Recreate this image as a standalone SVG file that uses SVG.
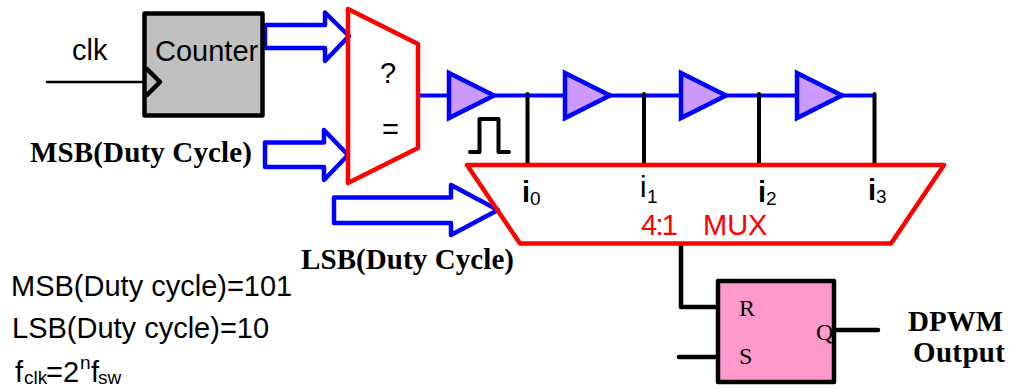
<svg xmlns="http://www.w3.org/2000/svg" width="1010" height="389" viewBox="0 0 1010 389">
<style>
text{font-family:"Liberation Sans",Arial,sans-serif;font-size:29px;fill:#000}
.s{font-family:"Liberation Serif","Times New Roman",serif}
.b{font-weight:bold}
.sm{font-size:24px}
.sub{font-size:19px}
.red{fill:#f00}
.rp{fill:none;stroke:#f00;stroke-width:4.500;stroke-linejoin:round}
.arrow{fill:none;stroke:#00f;stroke-width:4.500;stroke-linejoin:round}
.buf{fill:#cc99ff;stroke:#00f;stroke-width:4.500;stroke-linejoin:miter}
.bk{fill:none;stroke:#000;stroke-width:4;stroke-linecap:round;stroke-linejoin:round}
.bl{fill:none;stroke:#00f;stroke-width:4}
.box{stroke:#000;stroke-width:4.500;stroke-linejoin:round}
</style>
<rect width="1010" height="389" fill="#fff"/>
<g id="connectors">
<path class="bk" style="stroke-width:2.500" d="M47 82H145"/>
<path class="bl" d="M418 95.500H875"/>
<path class="bk" d="M527.500 94V165M644 94V165M759 94V165M874.500 94V165"/>
<path class="bk" style="stroke-width:4.500" d="M681 244V307H718M679 357H718M834 330H878"/>
<path class="arrow" id="arrow-counter" d="M265 25H325V12.500L349 36L325 61V48H265Z"/>
<path class="arrow" id="arrow-msb" d="M265 142.500H324V130L348 155L324 180V167H265Z"/>
<path class="arrow" id="arrow-lsb" d="M334 197.500H451V185L498 210L451 235V223H334Z"/>
</g>
<g id="counter">
<rect class="box" x="144.500" y="13.500" width="118" height="102" fill="#c0c0c0"/>
<path class="bk" style="stroke-width:4.500;stroke-linecap:butt" d="M146 68L160 82L146 96"/>
<text x="155" y="61">Counter</text>
<text x="72" y="60">clk</text>
</g>
<g id="comparator">
<path class="rp" d="M348 9L418 44V148L348 183Z"/>
<text x="380" y="83">?</text>
<text x="382" y="139">=</text>
</g>
<g id="buffer-1"><path class="buf" d="M449 73L494 95.500L449 118Z"/></g>
<g id="buffer-2"><path class="buf" d="M565 73L610 95.500L565 118Z"/></g>
<g id="buffer-3"><path class="buf" d="M681 73L726 95.500L681 118Z"/></g>
<g id="buffer-4"><path class="buf" d="M797 73L842 95.500L797 118Z"/></g>
<g id="pulse"><path class="bk" style="stroke-width:4" d="M470 152H479.500V119H498.500V152H509"/></g>
<g id="mux">
<path class="rp" d="M467 165H944L891 243.500H520Z"/>
<text class="b" x="522" y="202">i</text><text class="sub" x="530" y="205">0</text>
<text x="640" y="197">i</text><text class="sub" x="647" y="203">1</text>
<text class="b" x="758" y="202">i</text><text class="sub" x="766" y="205">2</text>
<text class="b" x="868" y="200">i</text><text class="sub" x="876" y="203">3</text>
<text class="red" x="641" y="235" textLength="37">4:1</text>
<text class="red" x="703" y="235">MUX</text>
</g>
<g id="flipflop">
<rect class="box" x="718" y="281" width="116" height="101" fill="#ff99cc"/>
<text class="s sm" x="739" y="316">R</text>
<text class="s sm" x="739" y="364">S</text>
<text class="s sm" x="816" y="340">Q</text>
</g>
<g id="labels">
<text class="s b" x="30" y="162" textLength="222">MSB(Duty Cycle)</text>
<text class="s b" x="301" y="269" textLength="213">LSB(Duty Cycle)</text>
<text class="s b" x="908" y="331" textLength="95">DPWM</text>
<text class="s b" x="913" y="362" textLength="92">Output</text>
<text x="11" y="296">MSB(Duty cycle)=101</text>
<text x="12" y="338">LSB(Duty cycle)=10</text>
<text x="15" y="382">f</text><text class="sub" x="24" y="384">clk</text><text x="46" y="382">=2</text><text class="sub" x="80" y="369">n</text><text x="91" y="382">f</text><text class="sub" x="98" y="384">sw</text>
</g>
</svg>
